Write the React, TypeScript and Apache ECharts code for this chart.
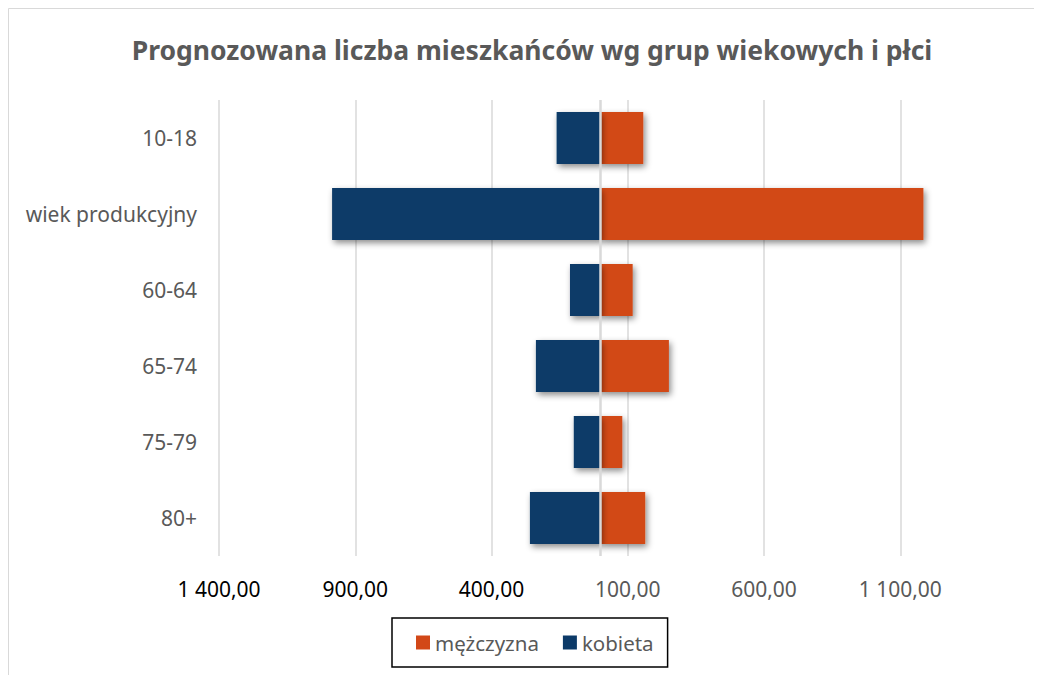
import { useEffect, useRef } from "react";
import * as echarts from "echarts";

const categories = ["10-18", "wiek produkcyjny", "60-64", "65-74", "75-79", "80+"];
const kobieta = [161, 985, 112, 237, 98, 259];
const mezczyzna = [157, 1185, 118, 251, 80, 164];
const tickValues = [-1400, -900, -400, 100, 600, 1100];

const FONT = "'Noto Sans', 'Open Sans', sans-serif";

function fmt(v: number): string {
  const a = Math.abs(Math.round(v));
  const s = String(a).replace(/\B(?=(\d{3})+(?!\d))/g, " ");
  return s + ",00";
}

export default function App() {
  const ref = useRef<HTMLDivElement>(null);
  useEffect(() => {
    if (!ref.current) return;
    const chart = echarts.init(ref.current, null, { renderer: "svg" });
    chart.setOption({
      animation: false,
      textStyle: { fontFamily: FONT },
      graphic: [
        { type: "line", shape: { x1: 0.5, y1: 0.5, x2: 1028, y2: 0.5 }, style: { stroke: "#D9D9D9", lineWidth: 1 } },
        { type: "line", shape: { x1: 0.5, y1: 0.5, x2: 0.5, y2: 667 }, style: { stroke: "#D9D9D9", lineWidth: 1 } },
        {
          type: "text",
          x: 524,
          y: 42,
          style: {
            text: "Prognozowana liczba mieszkańców wg grup wiekowych i płci",
            fontFamily: FONT,
            fontWeight: "bold",
            fontSize: 26.5,
            fill: "#595959",
            textAlign: "center",
            textVerticalAlign: "middle",
          },
        },
      ],
      legend: {
        data: ["mężczyzna", "kobieta"],
        left: 384,
        top: 610,
        orient: "horizontal",
        icon: "rect",
        itemWidth: 14,
        itemHeight: 14,
        itemGap: 24,
        padding: [14, 14, 14, 24],
        borderColor: "#000000",
        borderWidth: 1.5,
        textStyle: { color: "#595959", fontSize: 20.5, fontFamily: FONT },
      },
      grid: { left: 211, top: 92, width: 708.5, height: 456, containLabel: false },
      xAxis: {
        type: "value",
        min: -1400,
        max: 1200,
        interval: 100,
        axisLine: { show: false },
        axisTick: { show: false },
        splitLine: { show: false },
        axisLabel: {
          margin: 22,
          fontSize: 21,
          fontFamily: FONT,
          formatter: (v: number) => {
            if (!tickValues.includes(Math.round(v))) return "";
            return v < 0 ? "{n|" + fmt(v) + "}" : "{p|" + fmt(v) + "}";
          },
          rich: {
            n: { color: "#000000", fontSize: 21, fontFamily: FONT },
            p: { color: "#595959", fontSize: 21, fontFamily: FONT },
          },
        },
      },
      yAxis: {
        type: "category",
        data: categories,
        inverse: true,
        axisLine: { show: false, onZero: false },
        axisTick: { show: false },
        splitLine: { show: false },
        axisLabel: { color: "#595959", fontSize: 21, margin: 22, fontFamily: FONT },
      },
      series: [
        {
          name: "mężczyzna",
          type: "bar",
          data: mezczyzna,
          barWidth: 52,
          barGap: "-100%",
          itemStyle: {
            color: "#D24818",
            shadowColor: "rgba(0,0,0,0.45)",
            shadowBlur: 6,
            shadowOffsetX: 2,
            shadowOffsetY: 3,
          },
          markLine: {
            silent: true,
            z: 1,
            symbol: ["none", "none"],
            label: { show: false },
            lineStyle: { color: "#D9D9D9", width: 1.5, type: "solid" },
            data: tickValues.map((v) => ({ xAxis: v })),
          },
        },
        {
          name: "kobieta",
          type: "bar",
          data: kobieta.map((v) => -v),
          barWidth: 52,
          barGap: "-100%",
          itemStyle: {
            color: "#0C3A68",
            shadowColor: "rgba(0,0,0,0.45)",
            shadowBlur: 6,
            shadowOffsetX: 2,
            shadowOffsetY: 3,
          },
          markLine: {
            silent: true,
            z: 6,
            symbol: ["none", "none"],
            label: { show: false },
            lineStyle: { color: "#D9D9D9", width: 2.5, type: "solid" },
            data: [{ xAxis: 0 }],
          },
        },
      ],
    });
    return () => chart.dispose();
  }, []);
  return <div ref={ref} style={{ width: 1034, height: 667 }} />;
}
